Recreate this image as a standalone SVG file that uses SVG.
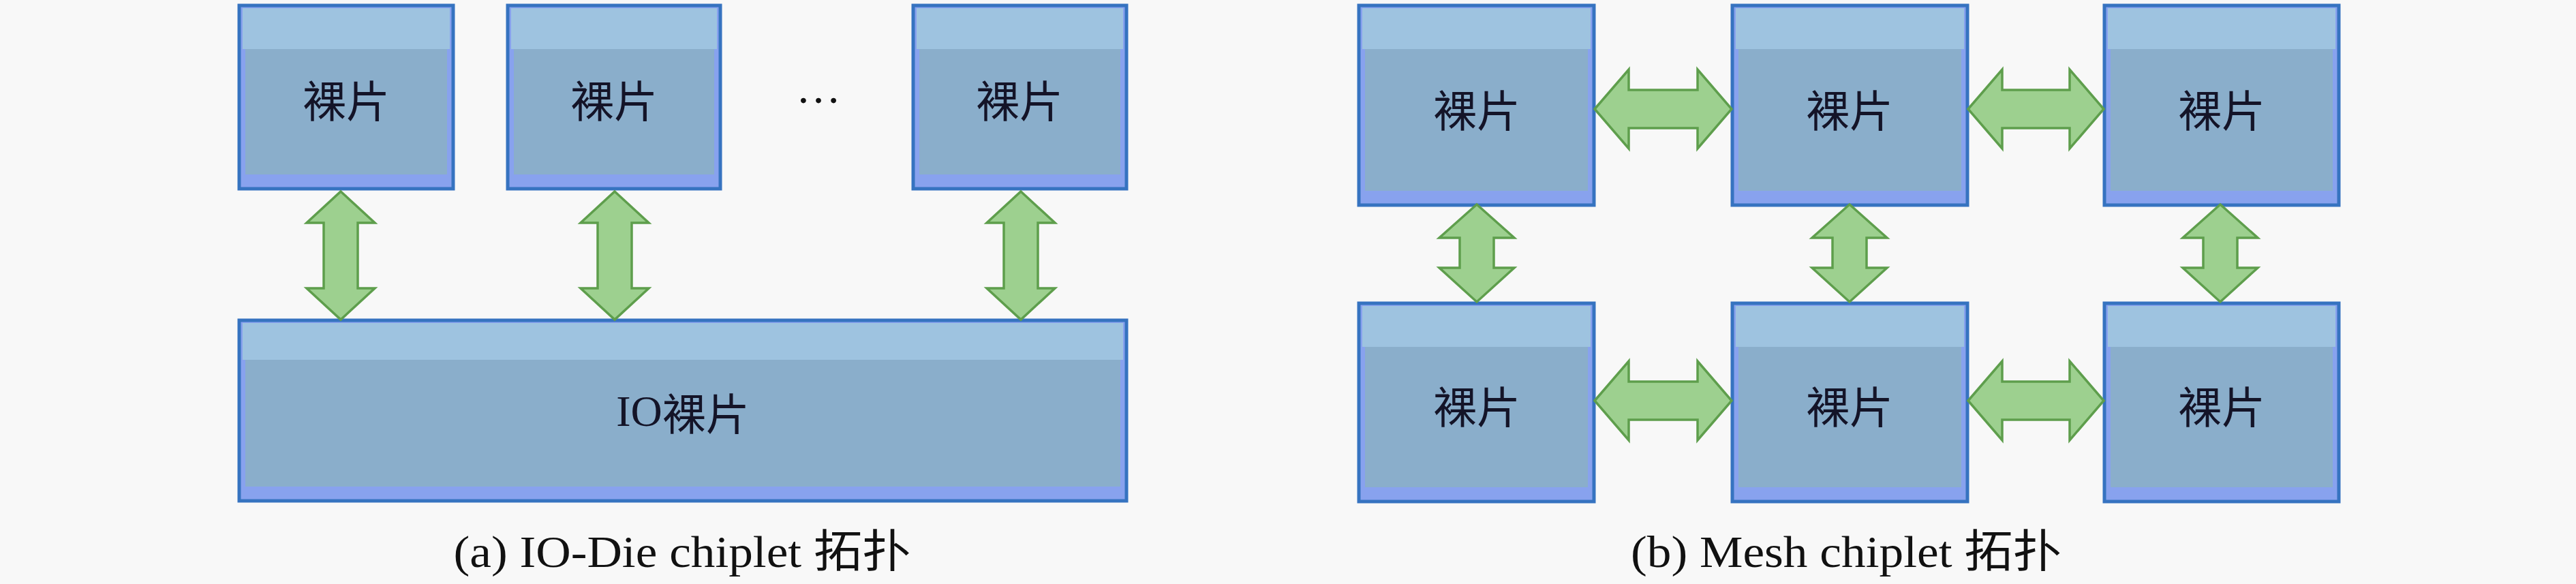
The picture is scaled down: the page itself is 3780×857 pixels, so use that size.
<svg xmlns="http://www.w3.org/2000/svg" width="3780" height="857" viewBox="0 0 3780 857">
<defs>
<style>
.outer{fill:#88a2ee;stroke:#3673c0;stroke-width:5}
.main{fill:#8aaecb}
.band{fill:#9ec3e0}
.lbl{font-family:"Noto Sans CJK SC","Noto Sans CJK JP",sans-serif;font-size:64px;fill:#141428;text-anchor:middle;dominant-baseline:central}
.cap{font-family:"Liberation Serif","Noto Sans CJK SC",serif;font-size:66px;fill:#111;text-anchor:middle}
.cjk{font-family:"Noto Sans CJK SC","Noto Sans CJK JP",sans-serif}
.arr{fill:#9dd08f;stroke:#5e9e4c;stroke-width:3.5;stroke-linejoin:miter}
</style>
</defs>
<rect x="0" y="0" width="3780" height="857" fill="#f8f8f8"/>

<g id="a-die1">
<rect class="outer" x="351" y="8" width="314" height="269"/>
<rect class="main" x="360" y="12" width="296" height="244"/>
<rect class="band" x="356" y="12" width="304" height="60"/>
<text class="lbl" x="508" y="144">裸片</text>
</g>
<g id="a-die2">
<rect class="outer" x="745" y="8" width="312" height="269"/>
<rect class="main" x="754" y="12" width="294" height="244"/>
<rect class="band" x="750" y="12" width="302" height="60"/>
<text class="lbl" x="901" y="144">裸片</text>
</g>
<g id="a-ellipsis">
<text class="cap" x="1201" y="151">…</text>
</g>
<g id="a-die3">
<rect class="outer" x="1340" y="8" width="313" height="269"/>
<rect class="main" x="1349" y="12" width="295" height="244"/>
<rect class="band" x="1345" y="12" width="303" height="60"/>
<text class="lbl" x="1496" y="144">裸片</text>
</g>
<g id="a-io">
<rect class="outer" x="351" y="470" width="1302" height="265"/>
<rect class="main" x="360" y="474" width="1284" height="240"/>
<rect class="band" x="356" y="474" width="1292" height="54"/>
<text class="lbl" x="1002" y="603"><tspan font-family="Liberation Serif,serif">IO</tspan>裸片</text>
</g>

<g id="b-n11">
<rect class="outer" x="1994" y="8" width="345" height="293"/>
<rect class="main" x="2003" y="12" width="327" height="268"/>
<rect class="band" x="1999" y="12" width="335" height="60"/>
<text class="lbl" x="2167" y="158">裸片</text>
</g>
<g id="b-n12">
<rect class="outer" x="2542" y="8" width="345" height="293"/>
<rect class="main" x="2551" y="12" width="327" height="268"/>
<rect class="band" x="2547" y="12" width="335" height="60"/>
<text class="lbl" x="2714" y="158">裸片</text>
</g>
<g id="b-n13">
<rect class="outer" x="3088" y="8" width="344" height="293"/>
<rect class="main" x="3097" y="12" width="326" height="268"/>
<rect class="band" x="3093" y="12" width="334" height="60"/>
<text class="lbl" x="3260" y="158">裸片</text>
</g>
<g id="b-n21">
<rect class="outer" x="1994" y="445" width="345" height="291"/>
<rect class="main" x="2003" y="449" width="327" height="266"/>
<rect class="band" x="1999" y="449" width="335" height="60"/>
<text class="lbl" x="2167" y="593">裸片</text>
</g>
<g id="b-n22">
<rect class="outer" x="2542" y="445" width="345" height="291"/>
<rect class="main" x="2551" y="449" width="327" height="266"/>
<rect class="band" x="2547" y="449" width="335" height="60"/>
<text class="lbl" x="2714" y="593">裸片</text>
</g>
<g id="b-n23">
<rect class="outer" x="3088" y="445" width="344" height="291"/>
<rect class="main" x="3097" y="449" width="326" height="266"/>
<rect class="band" x="3093" y="449" width="334" height="60"/>
<text class="lbl" x="3260" y="593">裸片</text>
</g>

<g id="connectors">
<polygon class="arr" points="500,281 550,327 525,327 525,423 550,423 500,469 450,423 475,423 475,327 450,327"/>
<polygon class="arr" points="902,281 952,327 927,327 927,423 952,423 902,469 852,423 877,423 877,327 852,327"/>
<polygon class="arr" points="1498,281 1548,327 1523,327 1523,423 1548,423 1498,469 1448,423 1473,423 1473,327 1448,327"/>

<polygon class="arr" points="2167,300 2222,349 2192,349 2192,393 2222,393 2167,443 2112,393 2142,393 2142,349 2112,349"/>
<polygon class="arr" points="2714,300 2769,349 2739,349 2739,393 2769,393 2714,443 2659,393 2689,393 2689,349 2659,349"/>
<polygon class="arr" points="3258,300 3313,349 3283,349 3283,393 3313,393 3258,443 3203,393 3233,393 3233,349 3203,349"/>

<polygon class="arr" points="2340,160 2390,102 2390,132 2491,132 2491,102 2541,160 2491,218 2491,188 2390,188 2390,218"/>
<polygon class="arr" points="2888,160 2938,102 2938,132 3037,132 3037,102 3087,160 3037,218 3037,188 2938,188 2938,218"/>
<polygon class="arr" points="2340,588 2390,530 2390,560 2491,560 2491,530 2541,588 2491,646 2491,616 2390,616 2390,646"/>
<polygon class="arr" points="2888,588 2938,530 2938,560 3037,560 3037,530 3087,588 3037,646 3037,616 2938,616 2938,646"/>
</g>

<g id="captions">
<text class="cap" x="1001" y="832" textLength="671" lengthAdjust="spacingAndGlyphs">(a) IO-Die chiplet <tspan class="cjk">拓扑</tspan></text>
<text class="cap" x="2709" y="832" textLength="632" lengthAdjust="spacingAndGlyphs">(b) Mesh chiplet <tspan class="cjk">拓扑</tspan></text>
</g>
</svg>
